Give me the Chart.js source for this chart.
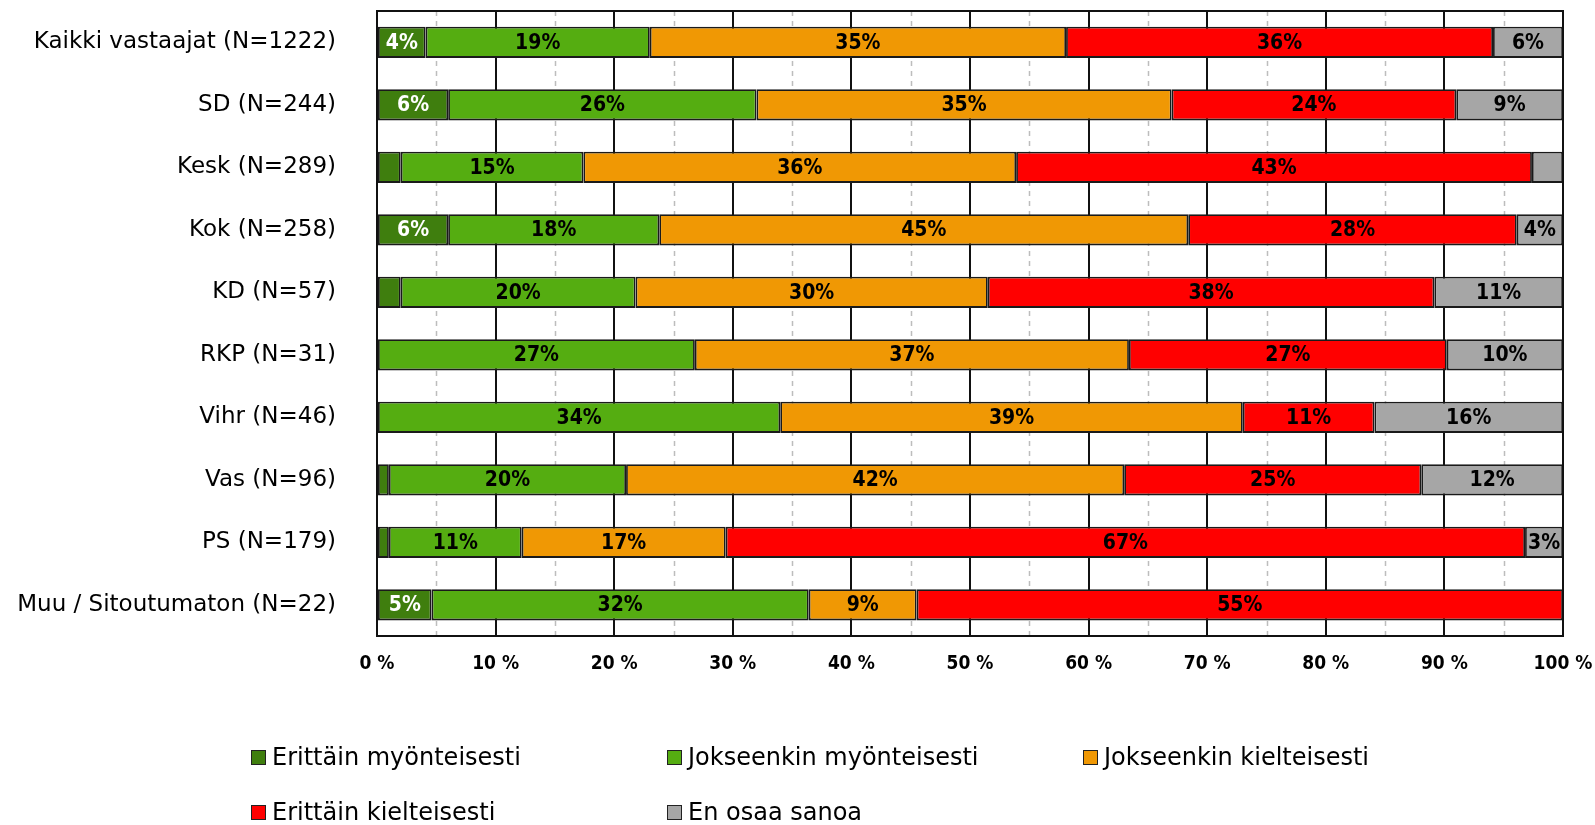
<!DOCTYPE html>
<html>
<head>
<meta charset="utf-8">
<script src="https://cdn.jsdelivr.net/npm/chart.js@4.4.1/dist/chart.umd.min.js"></script>
<style>
  html,body{margin:0;padding:0;background:#fff;}
  #wrap{position:relative;width:1595px;height:825px;}
  #legend{position:absolute;left:0;top:0;width:1595px;height:825px;pointer-events:none;
    font-family:"DejaVu Sans",sans-serif;font-size:24px;color:#000;}
  #legend .item{position:absolute;display:flex;align-items:center;white-space:nowrap;}
  #legend .box{width:13px;height:13px;border:1.5px solid #222;margin-right:6px;}
</style>
</head>
<body>
<div id="wrap">
  <canvas id="c" width="1595" height="825"></canvas>
  <div id="legend"></div>
</div>
<script>
/* ===== Data ===== */
const categories = [
  'Kaikki vastaajat (N=1222)','SD (N=244)','Kesk (N=289)','Kok (N=258)','KD (N=57)',
  'RKP (N=31)','Vihr (N=46)','Vas (N=96)','PS (N=179)','Muu / Sitoutumaton (N=22)'
];
const seriesNames = ['Erittäin myönteisesti','Jokseenkin myönteisesti','Jokseenkin kielteisesti','Erittäin kielteisesti','En osaa sanoa'];
const seriesColors = ['#3F7E0E','#55AD11','#F09804','#FF0000','#A6A6A6'];
const labelColors  = ['#fff','#000','#000','#000','#000'];

const erittainMyont = [4.1, 6.0, 2.0, 6.0, 2.0, 0, 0, 1.0, 1.0, 4.6];
const jokseenMyont  = [18.9, 26.0, 15.4, 17.8, 19.8, 26.8, 34.0, 20.0, 11.2, 31.8];
const jokseenKielt  = [35.1, 35.0, 36.49, 44.6, 29.7, 36.6, 39.0, 42.0, 17.2, 9.1];
const erittainKielt = [36.0, 24.0, 43.49, 27.7, 37.65, 26.8, 11.1, 25.05, 67.4, 54.5];
const enOsaa        = [5.9, 9.0, 2.62, 3.9, 10.85, 9.8, 15.9, 11.95, 3.2, 0];
const seriesValues = [erittainMyont, jokseenMyont, jokseenKielt, erittainKielt, enOsaa];

const xTicks = [0,10,20,30,40,50,60,70,80,90,100];
const FONT = '"DejaVu Sans",sans-serif';
const FONT_C = '"DejaVu Sans Condensed","DejaVu Sans",sans-serif';

/* ===== Plugins ===== */
// dashed gray lines halfway between the 10 % grid lines
const dashLines = {
  id:'dashLines',
  beforeDatasetsDraw(chart){
    const {ctx, chartArea:a, scales:{x}} = chart;
    ctx.save();
    ctx.strokeStyle='#bdbdbd'; ctx.lineWidth=1.5; ctx.setLineDash([5,5]);
    for(let v=5; v<100; v+=10){
      const px = Math.round(x.getPixelForValue(v))+0.5;
      ctx.beginPath(); ctx.moveTo(px,a.top); ctx.lineTo(px,a.bottom); ctx.stroke();
    }
    ctx.restore();
  }
};
const frame = {
  id:'frame',
  afterDatasetsDraw(chart){
    const {ctx, chartArea:a} = chart;
    ctx.save(); ctx.strokeStyle='#111'; ctx.lineWidth=2;
    ctx.strokeRect(a.left, a.top, a.right-a.left, a.bottom-a.top);
    ctx.restore();
  }
};
const barLabels = {
  id:'barLabels',
  afterDatasetsDraw(chart){
    const {ctx} = chart;
    ctx.save();
    ctx.font = 'bold 21px '+FONT_C; ctx.textAlign='center'; ctx.textBaseline='middle';
    chart.data.datasets.forEach((ds,i)=>{
      chart.getDatasetMeta(i).data.forEach((el,j)=>{
        const v = ds.data[j];
        if(v < 3) return;
        const c = el.getCenterPoint();
        ctx.fillStyle = labelColors[i];
        ctx.fillText(Math.round(v)+'%', c.x, c.y+1);
      });
    });
    ctx.restore();
  }
};

/* ===== Chart ===== */
new Chart(document.getElementById('c'),{
  type:'bar',
  data:{
    labels:categories,
    datasets:seriesValues.map((vals,i)=>({
      label:seriesNames[i], data:vals, backgroundColor:seriesColors[i],
      borderColor:'#1a1a1a', borderWidth:1.8, borderSkipped:false,
      barPercentage:0.5, categoryPercentage:1
    }))
  },
  options:{
    indexAxis:'y', responsive:false, animation:false,
    layout:{padding:{top:11, right:32, bottom:139, left:0}},
    plugins:{legend:{display:false}, tooltip:{enabled:false}},
    scales:{
      x:{
        stacked:true, min:0, max:100,
        afterFit:(s)=>{ s.height=50; s.paddingLeft=0; s.paddingRight=0; },
        grid:{color:'#111', lineWidth:2, drawTicks:false},
        border:{display:false},
        afterBuildTicks:(s)=>{ s.ticks = xTicks.map(v=>({value:v})); },
        ticks:{autoSkip:false, maxRotation:0, padding:17, color:'#000', font:{family:FONT_C, size:19, weight:'bold'},
          callback:(v)=>v+' %'}
      },
      y:{
        stacked:true,
        afterFit:(s)=>{ s.width=377; s.paddingTop=0; s.paddingBottom=0; },
        grid:{display:false, drawTicks:false},
        border:{display:false},
        ticks:{padding:41, color:'#000', font:{family:FONT, size:23}}
      }
    }
  },
  plugins:[dashLines, barLabels, frame]
});

/* ===== Legend ===== */
const legendPos = [[251,758],[667,758],[1083,758],[251,813],[667,813]];
const lg = document.getElementById('legend');
seriesNames.forEach((n,i)=>{
  const d = document.createElement('div'); d.className='item';
  d.style.left = legendPos[i][0]+'px'; d.style.top = (legendPos[i][1]-15)+'px';
  d.innerHTML = `<span class="box" style="background:${seriesColors[i]}"></span><span>${n}</span>`;
  lg.appendChild(d);
});
</script>
</body>
</html>
